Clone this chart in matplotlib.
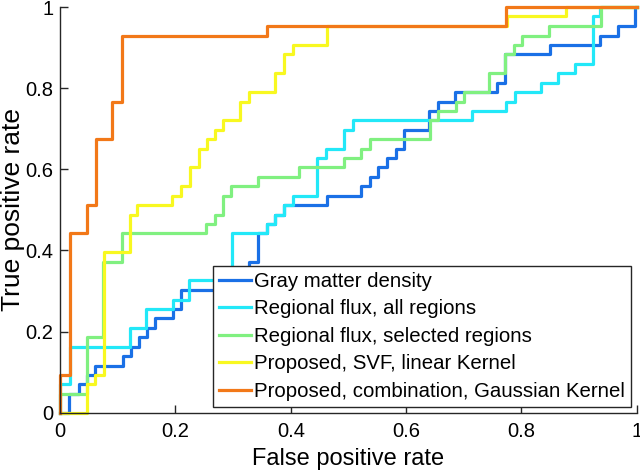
import matplotlib.pyplot as plt

plt.rcParams['font.family'] = ['Liberation Sans', 'DejaVu Sans']

# ROC curves: fpr where tpr steps up, and tpr after the step
gray_fpr = [0, 0.016, 0.032, 0.046, 0.061, 0.109, 0.122, 0.136, 0.151, 0.165, 0.196, 0.210,
            0.290, 0.312, 0.327, 0.343, 0.358, 0.373, 0.389, 0.463, 0.521, 0.537, 0.552,
            0.566, 0.582, 0.596, 0.640, 0.656, 0.685, 0.758, 0.772, 0.850, 0.937, 0.967,
            0.997, 1.0]
gray_tpr = [0, 0.047, 0.070, 0.093, 0.116, 0.140, 0.163, 0.186, 0.209, 0.233, 0.256, 0.302,
            0.326, 0.349, 0.372, 0.442, 0.465, 0.488, 0.512, 0.535, 0.558, 0.581, 0.605,
            0.628, 0.651, 0.698, 0.744, 0.767, 0.791, 0.814, 0.884, 0.907, 0.930, 0.953,
            1.0, 1.0]

flux_all_fpr = [0, 0, 0.017, 0.121, 0.149, 0.196, 0.224, 0.298, 0.358, 0.373, 0.389, 0.403,
                0.446, 0.461, 0.493, 0.507, 0.715, 0.773, 0.788, 0.833, 0.863, 0.893, 0.924,
                0.937, 1.0]
flux_all_tpr = [0, 0.070, 0.163, 0.209, 0.256, 0.279, 0.326, 0.442, 0.465, 0.488, 0.512, 0.535,
                0.628, 0.651, 0.698, 0.721, 0.744, 0.767, 0.791, 0.814, 0.837, 0.860, 0.977,
                1.0, 1.0]

flux_sel_fpr = [0, 0, 0.046, 0.074, 0.107, 0.253, 0.268, 0.282, 0.296, 0.343, 0.415, 0.493,
                0.521, 0.537, 0.641, 0.656, 0.686, 0.700, 0.743, 0.772, 0.787, 0.801, 0.847,
                0.938, 1.0]
flux_sel_tpr = [0, 0.047, 0.186, 0.372, 0.442, 0.465, 0.488, 0.535, 0.558, 0.581, 0.605, 0.628,
                0.651, 0.674, 0.721, 0.744, 0.767, 0.791, 0.837, 0.884, 0.907, 0.930, 0.953,
                1.0, 1.0]

svf_fpr = [0, 0.047, 0.061, 0.076, 0.121, 0.134, 0.194, 0.210, 0.226, 0.240, 0.254, 0.269,
           0.283, 0.312, 0.328, 0.373, 0.389, 0.403, 0.463, 0.775, 0.878, 1.0]
svf_tpr = [0, 0.070, 0.093, 0.395, 0.488, 0.512, 0.535, 0.558, 0.605, 0.651, 0.674, 0.698,
           0.721, 0.767, 0.791, 0.837, 0.884, 0.907, 0.953, 0.977, 1.0, 1.0]

comb_fpr = [0, 0, 0.017, 0.046, 0.062, 0.090, 0.107, 0.359, 0.773, 1.0]
comb_tpr = [0, 0.093, 0.442, 0.512, 0.674, 0.767, 0.930, 0.953, 1.0, 1.0]

labels = ['Gray matter density', 'Regional flux, all regions',
          'Regional flux, selected regions', 'Proposed, SVF, linear Kernel',
          'Proposed, combination, Gaussian Kernel']
colors = ['#1a70e6', '#22e8f8', '#80f080', '#f8f820', '#f27818']

curves = [(gray_fpr, gray_tpr), (flux_all_fpr, flux_all_tpr), (flux_sel_fpr, flux_sel_tpr),
          (svf_fpr, svf_tpr), (comb_fpr, comb_tpr)]

fig = plt.figure(figsize=(6.4, 4.76), dpi=100)
ax = fig.add_axes([0.094, 0.133, 0.901, 0.852])

for (fpr, tpr), c, lab in zip(curves, colors, labels):
    ax.step(fpr, tpr, where='post', color=c, lw=2.3, label=lab, clip_on=False)

ax.set_xlim(0, 1)
ax.set_ylim(0, 1)
ticks = [0, 0.2, 0.4, 0.6, 0.8, 1]
tick_text = ['0', '0.2', '0.4', '0.6', '0.8', '1']
ax.set_xticks(ticks, tick_text)
ax.set_yticks(ticks, tick_text)
ax.spines['top'].set_visible(False)
ax.spines['right'].set_visible(False)
for s in ['left', 'bottom']:
    ax.spines[s].set_color('#262626')
    ax.spines[s].set_linewidth(1.0)
ax.tick_params(direction='in', length=6, width=1, color='#262626', labelsize=14.5,
               labelcolor='black')
ax.tick_params(axis='x', pad=7)
ax.tick_params(axis='y', pad=5)

ax.set_xlabel('False positive rate', fontsize=17, labelpad=5)
ax.set_ylabel('True positive rate', fontsize=19, labelpad=0)

leg = ax.legend(loc='lower right', fontsize=14.7, fancybox=False, framealpha=1,
                edgecolor='#262626', borderaxespad=0.3, handlelength=1.6,
                handletextpad=0.15, borderpad=0.27, labelspacing=0.42)
leg.get_frame().set_linewidth(1.0)

fig.savefig('out.png', dpi=100)
